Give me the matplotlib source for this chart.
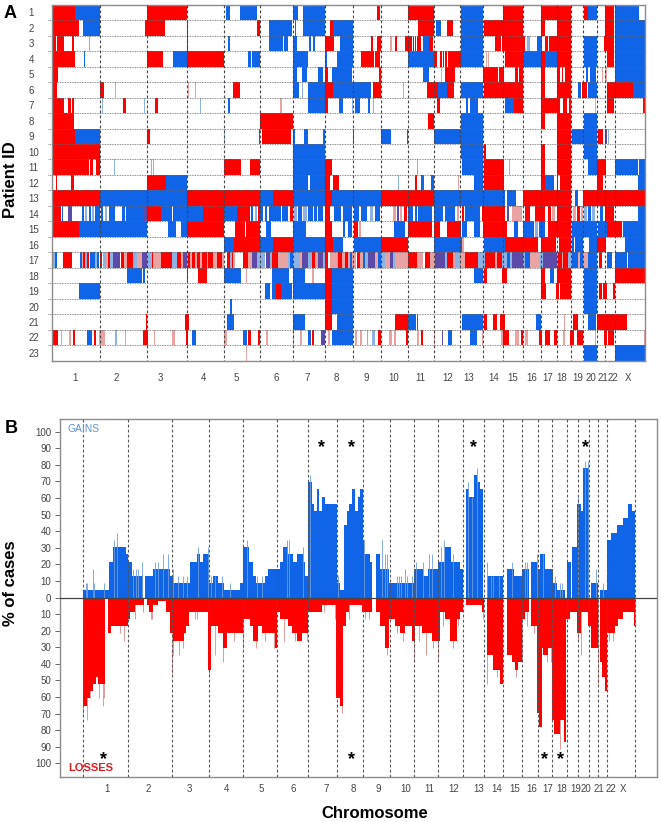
#!/usr/bin/env python3
"""
Copy number profile figure: patient heatmap (A) and gains/losses frequency (B).
Positions along the genome are in plot units, 990 units is the middle of the figure.
"""

import numpy as np
import matplotlib
matplotlib.use('Agg')
import matplotlib.pyplot as plt

plt.rcParams['font.family'] = ['Liberation Sans', 'DejaVu Sans']

W, H = 661, 822
MID = 990

# states
RED = '#fe0000'
BLUE = '#1064e8'
colors = {'r': RED, 'b': BLUE, 'p': '#5b4aa8', 'R': '#e9a3a3', 'B': '#8db2e4'}

# Panel A: segments per patient (state, start, end), left and right half of the genome
row01_l = [('r',155,225),('b',225,299),('r',440,561),('b',677,690),('b',721,772),('b',880,893),('b',909,974)]
row01_r = [('r',140,150),('r',233,313),('b',394,460),('r',520,580),('r',633,722),('r',761,775),('b',775,800),('r',826,853),('b',855,928)]
row02_l = [('r',155,238),('b',249,299),('r',435,496),('r',561,565),('r',772,781),('b',807,876),('b',884,888),('b',909,974)]
row02_r = [('r',0,10),('b',10,70),('r',263,313),('b',317,332),('r',350,370),('b',394,460),('r',463,580),('r',633,645),('r',680,722),('r',826,853),('b',855,945)]
row03_l = [('r',155,167),('r',171,193),('r',215,222),('B',266,269),('r',561,565),('b',684,690),('b',807,850),('b',853,865),('b',880,890),('b',926,932),('b',938,945),('r',975,990)]
row03_r = [('r',0,13),('b',30,70),('r',124,130),('r',140,153),('R',180,186),('r',194,200),('r',225,245),('r',248,251),('r',255,258),('r',262,272),('b',280,297),('r',297,310),('b',394,460),('r',495,512),('r',515,585),('B',590,600),('b',622,635),('r',645,655),('r',658,722),('b',761,800),('r',823,853),('b',855,945)]
row04_l = [('r',155,225),('b',252,256),('r',442,490),('b',519,561),('r',561,673),('b',745,752),('b',757,781),('b',880,923),('b',975,980)]
row04_r = [('b',20,70),('r',92,132),('r',135,150),('b',233,312),('r',312,320),('r',330,335),('r',338,342),('r',346,350),('r',354,392),('b',394,460),('R',467,470),('R',475,478),('r',525,580),('b',580,633),('r',633,645),('b',645,680),('r',680,722),('b',761,800),('r',830,853),('b',855,945)]
row05_l = [('r',155,175),('b',880,892),('b',907,922),('b',955,970),('r',975,985)]
row05_r = [('b',5,65),('r',148,152),('b',280,296),('R',332,335),('r',345,375),('r',460,505),('r',508,522),('r',555,565),('r',568,578),('r',633,645),('r',680,690),('r',695,700),('r',705,722),('b',768,775),('b',780,797),('R',817,820),('R',826,830),('b',855,945)]
row06_l = [('r',155,170),('r',299,312),('R',344,347),('R',563,566),('R',585,588),('r',700,720),('b',880,898),('B',905,910),('b',925,974),('r',975,990)]
row06_r = [('r',0,10),('b',10,122),('r',130,152),('R',219,222),('r',291,325),('b',325,352),('r',352,372),('b',394,460),('r',462,580),('r',633,645),('r',680,722),('b',745,752),('r',755,772),('b',775,800),('r',830,908),('b',908,945)]
row07_l = [('r',155,193),('r',205,213),('r',215,222),('B',306,309),('r',370,378),('B',433,436),('r',464,475),('B',599,602),('b',684,690),('R',841,845),('b',925,974),('r',975,985)]
row07_r = [('b',28,40),('B',66,70),('b',75,90),('b',113,120),('B',129,132),('r',322,330),('b',408,415),('b',420,445),('b',525,552),('r',552,580),('r',633,690),('r',700,710),('r',718,722),('R',795,798),('r',830,853),('r',940,945)]
row08_l = [('r',155,222),('r',781,880)]
row08_r = [('r',293,312),('b',394,460),('r',633,645),('r',680,722),('b',761,800)]
row09_l = [('r',155,225),('b',225,299),('r',442,450),('B',672,675),('b',778,781),('r',787,873),('b',880,885),('b',913,925),('b',968,974)]
row09_r = [('b',68,72),('b',153,183),('b',231,234),('b',312,460),('r',680,722),('b',725,800),('r',805,820),('p',825,832),('B',834,837)]
row10_l = [('r',155,299),('b',880,974)]
row10_r = [('b',394,460),('r',462,468),('r',633,645),('r',680,722),('b',761,800)]
row11_l = [('r',155,267),('r',270,280),('r',288,299),('B',342,345),('B',452,455),('B',460,463),('r',673,722),('r',750,781),('b',880,974),('r',975,990)]
row11_r = [('r',0,5),('B',261,265),('b',397,460),('r',462,523),('B',536,539),('r',633,645),('r',680,722),('b',775,800),('r',800,827),('b',855,925),('b',927,945)]
row12_l = [('r',168,172),('r',212,222),('r',442,498),('b',498,561),('b',880,925),('b',930,974),('r',975,990)]
row12_r = [('r',10,27),('B',204,207),('r',255,262),('b',272,282),('b',302,312),('R',384,387),('b',432,460),('r',462,523),('r',633,645),('b',645,672),('r',680,684),('r',690,722),('r',800,820),('b',925,945)]
row13_l = [('r',155,299),('b',299,561),('r',561,781),('b',781,820),('r',820,880),('b',880,974),('r',975,990)]
row13_r = [('r',0,5),('b',5,153),('r',153,312),('b',312,525),('b',530,558),('r',580,722),('b',735,745),('r',760,945)]
row14_l = [('r',155,183),('b',185,190),('p',205,215),('b',245,252),('B',255,262),('b',266,272),('B',275,282),('b',286,300),('b',303,310),('B',315,322),('b',326,345),('b',365,375),('b',378,430),('p',430,440),('r',442,482),('b',482,515),('b',518,561),('b',561,608),('r',608,673),('b',673,712),('r',712,750),('b',752,760),('B',764,770),('r',775,781),('b',781,790),('b',796,800),('b',808,842),('b',845,865),('r',870,880),('B',882,892),('b',895,905),('B',908,920),('b',925,938),('b',942,950),('b',955,968),('r',975,990)]
row14_r = [('b',12,32),('b',40,65),('b',72,88),('b',92,110),('B',120,130),('b',135,150),('R',190,198),('p',200,206),('R',210,216),('r',222,230),('b',233,250),('b',255,260),('b',265,305),('b',312,338),('b',345,375),('R',380,388),('r',395,403),('b',405,450),('r',457,525),('p',530,538),('R',545,575),('r',585,600),('r',615,645),('r',655,662),('R',665,675),('r',680,722),('R',730,738),('r',742,750),('R',752,760),('B',762,770),('b',775,782),('B',786,796),('b',810,820),('r',825,853),('b',925,945)]
row15_l = [('r',155,238),('b',238,442),('b',503,527),('b',543,561),('r',561,673),('r',705,735),('r',738,781),('b',797,812),('b',880,917),('r',975,990)]
row15_r = [('r',0,5),('b',38,45),('b',55,65),('r',72,85),('R',88,92),('b',193,225),('r',235,305),('r',312,330),('r',350,392),('b',396,410),('b',432,450),('r',460,530),('b',552,565),('b',580,612),('B',615,625),('b',628,645),('r',655,722),('b',725,800),('b',805,830),('r',830,875),('b',880,945)]
row16_l = [('b',673,702),('r',702,781),('b',781,820),('r',820,880),('b',880,974),('r',975,990)]
row16_r = [('r',0,8),('b',10,38),('b',72,153),('r',153,233),('b',312,395),('R',397,403),('b',462,525),('r',525,625),('r',632,678),('r',687,722),('b',725,732),('b',735,760),('b',776,800),('r',802,827),('b',885,945)]
row17_l = [('b',155,160),('B',160,165),('b',165,172),('r',188,215),('b',240,245),('R',245,250),('r',250,255),('B',255,262),('r',262,268),('b',270,285),('B',285,290),('b',290,297),('r',300,305),('B',308,318),('R',318,325),('r',325,330),('B',330,340),('p',340,360),('r',362,372),('R',372,380),('r',380,398),('B',398,410),('R',410,420),('R',420,425),('p',425,440),('B',440,450),('B',450,455),('r',455,460),('R',460,482),('r',482,515),('B',515,530),('r',530,543),('R',543,550),('p',550,560),('R',560,565),('r',565,570),('R',570,575),('r',575,585),('R',585,590),('r',590,600),('R',600,605),('r',605,620),('R',620,625),('r',625,640),('R',640,650),('r',650,665),('R',665,673),('r',680,690),('B',690,695),('r',695,700),('R',700,705),('r',730,745),('R',745,755),('p',755,770),('B',770,785),('B',785,795),('p',798,810),('B',810,815),('r',815,835),('R',835,845),('R',845,865),('B',865,870),('b',870,878),('B',878,885),('B',885,900),('R',900,905),('p',905,925),('B',925,935),('r',935,945),('R',945,955),('p',955,970),('B',970,975),('r',975,985)]
row17_r = [('R',0,20),('B',20,25),('r',25,35),('R',35,45),('r',45,55),('R',55,60),('b',60,65),('R',65,72),('R',72,78),('r',80,90),('R',90,100),('b',100,105),('B',105,115),('p',115,135),('R',135,145),('b',145,153),('B',153,165),('R',165,175),('R',175,180),('p',180,190),('B',190,195),('R',195,215),('R',215,233),('r',233,260),('R',260,265),('R',265,280),('r',285,300),('R',300,315),('p',315,345),('B',345,350),('r',350,370),('R',370,375),('B',375,390),('R',390,405),('r',405,420),('r',420,445),('B',445,465),('r',465,495),('R',495,500),('r',500,515),('B',515,530),('b',530,540),('B',540,545),('p',545,580),('B',580,585),('b',585,600),('R',600,610),('R',610,630),('B',630,640),('p',640,680),('R',680,685),('r',685,695),('R',695,700),('r',700,715),('B',715,725),('b',725,745),('R',745,750),('b',750,760),('R',760,775),('b',775,800),('r',807,815),('b',830,845),('b',855,890),('b',895,945)]
row18_l = [('b',381,425),('b',430,435),('r',560,565),('r',595,620),('b',673,723),('R',739,742),('b',817,866),('b',880,915),('R',937,941),('r',975,990)]
row18_r = [('r',0,5),('b',5,70),('b',432,460),('r',462,472),('r',516,532),('r',633,645),('b',660,672),('r',680,722),('b',761,800),('r',855,945)]
row19_l = [('b',238,299),('b',795,810),('b',815,828),('r',828,843),('b',843,875),('b',880,974),('r',975,990)]
row19_r = [('r',0,5),('b',5,70),('r',633,647),('r',678,686),('r',690,722),('b',761,800),('r',807,817),('r',820,830),('r',848,855)]
row20_l = [('b',690,696),('r',975,990)]
row20_r = [('r',0,5),('b',5,70),('b',761,800)]
row21_l = [('r',437,442),('r',556,566),('b',680,702),('b',880,916),('r',975,990)]
row21_r = [('r',0,5),('b',20,70),('r',195,233),('b',233,258),('b',260,265),('b',395,460),('r',462,472),('r',490,502),('r',510,525),('b',617,632),('R',702,705),('r',730,745),('b',775,797),('r',802,890)]
row22_l = [('r',160,175),('R',182,186),('R',208,212),('r',218,225),('b',262,275),('r',283,288),('R',297,315),('B',345,350),('R',374,377),('r',428,445),('R',462,465),('R',517,525),('r',557,563),('b',577,588),('R',673,680),('b',730,740),('r',745,752),('r',775,780),('R',797,805),('R',879,882),('R',900,905),('b',925,933),('r',935,942),('p',963,975),('R',985,990)]
row22_r = [('b',5,68),('R',75,80),('R',90,95),('B',110,115),('B',125,135),('r',145,153),('R',178,185),('R',193,197),('r',228,233),('R',262,268),('r',272,278),('R',312,315),('p',337,340),('b',353,365),('b',420,442),('R',456,459),('R',512,520),('r',520,537),('R',555,568),('r',572,580),('R',585,595),('r',627,635),('r',645,660),('r',672,682),('R',700,705),('r',720,732),('r',742,760),('R',796,799),('r',822,830),('r',835,853),('R',942,945)]
row23_l = [('R',739,742)]
row23_r = [('b',761,800),('b',855,945)]

rows_l = [row01_l, row02_l, row03_l, row04_l, row05_l, row06_l, row07_l, row08_l, row09_l, row10_l, row11_l, row12_l,
          row13_l, row14_l, row15_l, row16_l, row17_l, row18_l, row19_l, row20_l, row21_l, row22_l, row23_l]
rows_r = [row01_r, row02_r, row03_r, row04_r, row05_r, row06_r, row07_r, row08_r, row09_r, row10_r, row11_r, row12_r,
          row13_r, row14_r, row15_r, row16_r, row17_r, row18_r, row19_r, row20_r, row21_r, row22_r, row23_r]

patients = [str(i) for i in range(1, 24)]
chrom_names = [str(i) for i in range(1, 23)] + ['X']

# chromosome boundaries and label places
bounds_a_l = [299, 442, 561, 673, 781, 880, 974]
bounds_a_r = [70, 153, 233, 312, 391, 458, 520, 580, 633, 680, 722, 760, 800, 826, 855]
labels_a_l = [225, 350, 482, 610, 708, 830, 920]
labels_a_r = [18, 108, 190, 270, 353, 417, 490, 548, 604, 652, 694, 743, 782, 820, 850, 895]

bounds_b_l = [248, 383, 516, 626, 730, 830, 924]
bounds_b_r = [20, 100, 179, 253, 325, 398, 461, 520, 575, 623, 667, 710, 743, 778, 803, 830, 915]
labels_b_l = [320, 445, 567, 680, 785, 881, 978]
labels_b_r = [71, 145, 227, 298, 372, 445, 500, 555, 604, 652, 694, 738, 768, 806, 842, 880]

# Panel B: step profiles (start, percent)
gain_steps_l = [(248,4.3),(327,21.7),(338,30.4),(378,26.1),(385,21.7),(395,13),(430,0),(434,13),(460,17.4),(510,13),(518,8.7),
                (570,21.7),(590,26.1),(600,21.7),(608,26.1),(626,8.7),(640,13),(655,8.7),(672,4.3),(720,8.7),(730,30.4),(748,21.7),
                (758,13),(768,8.7),(795,13),(805,17.4),(840,21.7),(850,30.4),(865,26.1),(880,21.7),(892,26.1),(908,21.7),(915,13),
                (925,69.6),(935,56.5),(942,52.2),(950,65.2),(958,52.2),(965,60.9),(975,56.5)]
gain_steps_r = [(20,8.7),(30,4.3),(42,43.5),(50,52.2),(58,56.5),(65,65.2),(75,52.2),(85,60.9),(90,65.2),(100,34.8),(103,26.1),
                (120,21.7),(125,0),(137,26.1),(150,17.4),(178,8.7),(253,17.4),(280,13),(295,17.4),(325,21.7),(345,30.4),
                (362,21.7),(390,17.4),(398,0),(408,65.2),(418,60.9),(432,73.9),(442,69.6),(450,65.2),(460,0),(472,13),(520,0),
                (530,17.4),(553,13),(575,17.4),(598,0),(603,21.7),(620,17.4),(630,26.1),(645,17.4),(668,8.7),(680,4.3),
                (705,0),(710,21.7),(722,0),(727,30.4),(742,56.5),(752,52.2),(760,78.3),(778,0),(784,8.7),(803,0),(810,4.3),
                (830,34.8),(843,39.1),(860,43.5),(878,47.8),(895,56.5),(905,52.2)]
gain_end = 915

loss_steps_l = [(248,65.2),(262,60.9),(270,56.5),(278,52.2),(288,47.8),(295,52.2),(315,0),(325,21.7),(333,17.4),(385,13),(390,8.7),
                (405,4.3),(432,0),(442,4.3),(448,8.7),(458,4.3),(475,2),(497,8.7),(510,21.7),(518,26.1),(552,21.7),(558,17.4),
                (568,8.7),(625,43.5),(632,17.4),(655,21.7),(670,30.4),(682,21.7),(730,13),(750,17.4),(758,26.1),(775,17.4),
                (785,21.7),(825,30.4),(832,8.7),(840,13),(865,17.4),(875,21.7),(890,26.1),(905,21.7),(925,8.7),(965,4.3)]
loss_steps_r = [(18,60.9),(30,65.2),(40,17.4),(48,8.7),(58,4.3),(95,8.7),(125,0),(137,8.7),(150,17.4),(165,30.4),(178,13),
                (195,17.4),(210,21.7),(225,17.4),(245,26.1),(255,17.4),(275,21.7),(305,26.1),(330,8.7),(345,13),(360,26.1),
                (380,13),(390,8.7),(398,0),(408,4.3),(455,8.7),(462,0),(472,34.8),(490,43.5),(510,52.2),(520,0),(530,34.8),
                (545,39.1),(555,43.5),(565,39.1),(575,13),(585,8.7),(597,0),(603,17.4),(620,69.6),(628,78.3),(635,30.4),
                (640,34.8),(655,30.4),(665,73.9),(672,82.6),(690,73.9),(703,87),(708,13),(720,8.7),(740,21.7),(752,8.7),
                (775,17.4),(783,30.4),(803,0),(810,39.1),(815,47.8),(825,56.5),(830,21.7),(855,17.4),(865,13),(880,8.7),(912,17.4)]
loss_end = 915

# thin single probe peaks (position, percent), drawn paler
gain_spikes_l = [(258,8.7),(262,8.7),(278,17.4),(282,8.7),(312,8.7),(352,39.1),(342,34.8),(398,17.4),(408,17.4),(415,17.4),(427,21.7),
                 (465,21.7),(475,21.7),(490,26.1),(505,26.1),(520,17.4),(535,13),(548,13),(560,13),(595,30.4),(625,30.4),(632,13),
                 (645,13),(665,13),(690,8.7),(740,34.8),(772,13),(785,13),(860,34.8),(867,34.8),(910,30.4),(930,73.9)]
gain_spikes_r = [(24,13),(102,34.8),(157,34.8),(165,26.1),(172,26.1),(200,13),(206,13),(212,13),(225,17.4),(232,13),(245,13),(258,21.7),
                 (278,21.7),(296,26.1),(306,26.1),(333,30.4),(343,34.8),(370,26.1),(413,69.6),(427,60.9),(441,78.3),(472,21.7),(482,13),
                 (490,13),(506,13),(545,21.7),(585,21.7),(592,21.7),(622,26.1),(640,26.1),(674,13),(690,8.7),(697,8.7),(744,60.9),
                 (766,82.6),(775,82.6),(797,17.4),(818,8.7)]
loss_spikes_l = [(262,74),(250,70),(270,60.9),(298,60.9),(308,65.2),(312,60.9),(360,21.7),(372,26.1),(405,13),(428,8.7),(452,13),(456,13),
                 (516,47.8),(520,34.8),(538,34.8),(548,30.4),(585,13),(592,13),(626,47.8),(645,34.8),(668,39.1),(703,26.1),(730,30.4),
                 (768,30.4),(795,26.1),(822,30.4),(853,26.1),(885,26.1),(920,26.1),(972,8.7)]
loss_spikes_r = [(14,13),(37,69.6),(58,13),(105,13),(118,13),(152,17.4),(172,34.8),(202,21.7),(218,26.1),(252,39.1),(268,26.1),(288,34.8),
                 (310,30.4),(325,39.1),(340,17.4),(370,30.4),(385,17.4),(458,13),(472,52.2),(500,47.8),(558,47.8),(575,39.1),(590,17.4),
                 (612,21.7),(650,39.1),(662,39.1),(691,91.3),(712,13),(745,26.1),(752,34.8),(803,52.2),(838,26.1),(850,26.1),(915,17.4)]

pct_ticks = list(range(0, 101, 10))
star_gains_l = [965]
star_gains_r = [65, 430, 768]
star_losses_l = [310]
star_losses_r = [65, 645, 691]


def px_axes(left, top, right, bottom):
    return fig.add_axes([left / W, 1 - bottom / H, (right - left) / W, (bottom - top) / H])


def join(left, right):
    return list(left) + [v + MID for v in right]


def profile(steps_l, steps_r, end):
    starts = [s[0] for s in steps_l] + [s[0] + MID for s in steps_r]
    vals = [s[1] for s in steps_l] + [s[1] for s in steps_r]
    return np.array(starts + [end + MID]), np.array(vals)


fig = plt.figure(figsize=(W / 100, H / 100), dpi=100)

# ---- Panel A
ax = px_axes(51.7, 4.7, 645, 360.7)
ax.set_xlim(155, 945 + MID)
ax.set_ylim(len(patients), 0)
for i, (left, right) in enumerate(zip(rows_l, rows_r)):
    segs = [(k, a, b) for k, a, b in left] + [(k, a + MID, b + MID) for k, a, b in right]
    for state, col in colors.items():
        spans = [(a, b - a) for k, a, b in segs if k == state]
        ax.broken_barh(spans, (i, 1), facecolors=col, edgecolor='none')

ax.hlines(np.arange(1, len(patients)), 145, 945 + MID, color='#666666', lw=0.6, linestyles=(0, (1, 1)), clip_on=False, zorder=3)
ax.vlines(join(bounds_a_l, bounds_a_r), 0, len(patients), color='#444444', lw=0.8, linestyles=(0, (2.5, 2)), zorder=3)
for s in ax.spines.values():
    s.set_color('#8c8c8c')
    s.set_linewidth(1.0)
ax.set_yticks(np.arange(len(patients)) + 0.5)
ax.set_yticklabels(patients, fontsize=7, color='#444444', ha='left')
ax.tick_params(axis='y', length=0, pad=16.5)
ax.set_xticks(join(labels_a_l, labels_a_r))
ax.set_xticklabels(chrom_names, fontsize=7, color='#444444')
ax.tick_params(axis='x', length=0, pad=9)

fig.text(10.5 / W, 1 - 13 / H, 'A', fontsize=13, fontweight='bold', ha='center', va='center')
fig.text(10.5 / W, 1 - 180 / H, 'Patient ID', fontsize=12, fontweight='bold', rotation=90, ha='center', va='center')

# ---- Panel B
ax2 = px_axes(60.3, 419, 657.3, 776.7)
ax2.set_xlim(181, 982 + MID)
ax2.set_ylim(-108.1, 107.7)

edges, vals = profile(gain_steps_l, gain_steps_r, gain_end)
ax2.stairs(vals, edges, fill=True, color=BLUE, lw=0)
edges, vals = profile(loss_steps_l, loss_steps_r, loss_end)
ax2.stairs(-vals, edges, fill=True, color=RED, lw=0)

ax2.vlines(join([s[0] for s in gain_spikes_l], [s[0] for s in gain_spikes_r]), 0,
           [s[1] for s in gain_spikes_l] + [s[1] for s in gain_spikes_r], color='#6d9ee0', lw=0.6)
ax2.vlines(join([s[0] for s in loss_spikes_l], [s[0] for s in loss_spikes_r]), 0,
           [-s[1] for s in loss_spikes_l] + [-s[1] for s in loss_spikes_r], color='#d98a8a', lw=0.6, zorder=0.9)

ax2.axhline(0, color='#444444', lw=0.9, zorder=3)
ax2.vlines(join(bounds_b_l, bounds_b_r), -108.1, 107.7, color='#555555', lw=0.8, linestyles=(0, (2.5, 2)), zorder=3)
for s in ax2.spines.values():
    s.set_color('#8c8c8c')
    s.set_linewidth(1.0)

ticks = [-p for p in pct_ticks[:0:-1]] + pct_ticks
ax2.set_yticks(ticks)
ax2.set_yticklabels([str(abs(t)) for t in ticks], fontsize=7, color='#444444')
ax2.tick_params(axis='y', length=3.5, width=0.7, color='#666666', pad=3)
ax2.set_xticks(join(labels_b_l, labels_b_r))
ax2.set_xticklabels(chrom_names, fontsize=7, color='#444444')
ax2.tick_params(axis='x', length=0, pad=5)

ax2.text(204, 101.8, 'GAINS', fontsize=7.4, color='#5f92d8', ha='left', va='center')
ax2.text(206, -103, 'LOSSES', fontsize=8, fontweight='bold', color='#e01b24', ha='left', va='center')

for x in join(star_gains_l, star_gains_r):
    ax2.text(x, 90.7, '*', fontsize=13, fontweight='bold', ha='center', va='center', zorder=4)
for x in join(star_losses_l, star_losses_r):
    ax2.text(x, -97.5, '*', fontsize=13, fontweight='bold', ha='center', va='center', zorder=4)

fig.text(11.5 / W, 1 - 428 / H, 'B', fontsize=13, fontweight='bold', ha='center', va='center')
fig.text(11 / W, 1 - 583 / H, '% of cases', fontsize=12, fontweight='bold', rotation=90, ha='center', va='center')
fig.text(375 / W, 1 - 813 / H, 'Chromosome', fontsize=12, fontweight='bold', ha='center', va='center')

fig.savefig('out.png', dpi=100, facecolor='white')
